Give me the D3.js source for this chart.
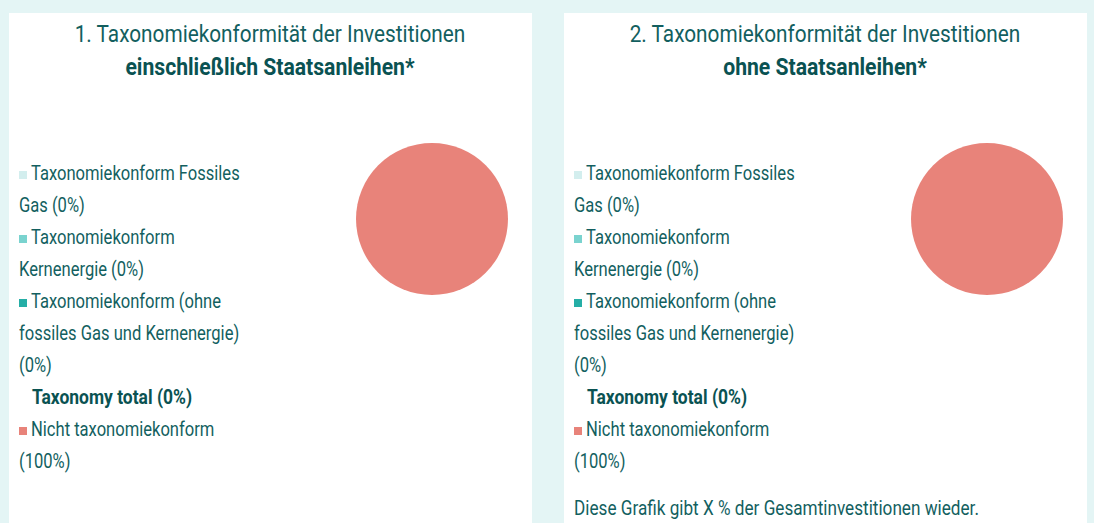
<!DOCTYPE html>
<html>
<head>
<meta charset="utf-8">
<script src="https://cdn.jsdelivr.net/npm/d3@7"></script>
<style>
  html, body { margin: 0; padding: 0; background: #e4f5f5; }
  svg { display: block; }
  text { font-family: Roboto, "Noto Sans", sans-serif; }
</style>
</head>
<body>
<svg id="chart" width="1094" height="523"></svg>
<script>
// Two taxonomy-alignment panels, each with a wrapped legend and a pie
const panelTitles = [
  "1. Taxonomiekonformität der Investitionen",
  "2. Taxonomiekonformität der Investitionen"
];
const panelSubtitles = [
  "einschließlich Staatsanleihen*",
  "ohne Staatsanleihen*"
];
const categories = [
  "Taxonomiekonform Fossiles Gas",
  "Taxonomiekonform Kernenergie",
  "Taxonomiekonform (ohne fossiles Gas und Kernenergie)",
  "Nicht taxonomiekonform"
];
const valuesInclSovereign = [0, 0, 0, 100];
const valuesExclSovereign = [0, 0, 0, 100];
const totalLabel = "Taxonomy total";
const footnote = "Diese Grafik gibt X % der Gesamtinvestitionen wieder.";
const colors = ["#d3eeee", "#7ad3cf", "#25aea6", "#e8837a"];

const panels = [
  { title: panelTitles[0], subtitle: panelSubtitles[0], values: valuesInclSovereign, note: null },
  { title: panelTitles[1], subtitle: panelSubtitles[1], values: valuesExclSovereign, note: footnote }
];

const svg = d3.select("#chart");
const panelW = 523, panelGap = 32, panelX0 = 9, panelY0 = 13;
const textColor = "#135f5f", boldColor = "#0a5252";
const condense = 0.85;      // horizontal squeeze for a narrow look
const condenseBold = 0.895;
const fontSize = 19.5;
const lineH = 32;
const wrapWidth = 238;

const color = d3.scaleOrdinal().domain(categories).range(colors);
const pie = d3.pie().sort(null).value(d => d.value);
const arc = d3.arc().innerRadius(0).outerRadius(76);

// measuring helper
const meas = svg.append("text").attr("font-size", fontSize).attr("visibility", "hidden");
function width(str) {
  meas.text(str);
  return meas.node().getComputedTextLength() * condense;
}
function wrap(str, firstIndent) {
  const words = str.split(" ");
  const lines = [];
  let cur = "", avail = wrapWidth - firstIndent;
  words.forEach(w => {
    const test = cur ? cur + " " + w : w;
    if (cur && width(test) > avail) {
      lines.push(cur);
      cur = w;
      avail = wrapWidth;
    } else cur = test;
  });
  lines.push(cur);
  return lines;
}

panels.forEach((p, i) => {
  const g = svg.append("g")
    .attr("transform", `translate(${panelX0 + i * (panelW + panelGap)},${panelY0})`);
  g.append("rect").attr("width", panelW).attr("height", 523 - panelY0).attr("fill", "#ffffff");

  // headings
  const cx = 261;
  g.append("text").attr("x", 0).attr("y", 29)
    .attr("text-anchor", "middle").attr("font-size", 23.5)
    .attr("fill", textColor)
    .attr("transform", `translate(${cx},0) scale(0.885,1)`)
    .text(p.title);
  g.append("text").attr("x", 0).attr("y", 62)
    .attr("text-anchor", "middle").attr("font-size", 23.5).attr("font-weight", 700)
    .attr("fill", boldColor)
    .attr("transform", `translate(${cx},0) scale(0.9,1)`)
    .text(p.subtitle);

  // legend rows
  const data = categories.map((c, k) => ({ name: c, value: p.values[k] }));
  const total = d3.sum(data.slice(0, 3), d => d.value);
  const rows = [];
  data.forEach((d, k) => {
    const lines = wrap(`${d.name} (${d3.format("d")(d.value)}%)`, 12);
    lines.forEach((ln, j) => rows.push({ text: ln, swatch: j === 0 ? d.name : null, indent: j === 0 ? 22 : 10, bold: false }));
    if (k === 2) rows.push({ text: `${totalLabel} (${total}%)`, swatch: null, indent: 23, bold: true });
  });

  const leg = g.append("g").attr("transform", "translate(0,154)");
  rows.forEach((r, j) => {
    const y = j * lineH;
    if (r.swatch) {
      leg.append("rect").attr("x", 10).attr("y", y + 4).attr("width", 8).attr("height", 8)
        .attr("fill", color(r.swatch));
    }
    leg.append("text")
      .attr("x", 0).attr("y", y + 13)
      .attr("font-size", fontSize)
      .attr("font-weight", r.bold ? 700 : 400)
      .attr("fill", r.bold ? boldColor : textColor)
      .attr("transform", `translate(${r.indent},0) scale(${r.bold ? condenseBold : condense},1)`)
      .text(r.text);
  });

  // pie
  g.append("g").attr("transform", "translate(423,206)")
    .selectAll("path")
    .data(pie(data))
    .join("path")
    .attr("d", arc)
    .attr("fill", d => color(d.data.name));

  if (p.note) {
    g.append("text").attr("x", 0).attr("y", 502)
      .attr("font-size", fontSize).attr("fill", textColor)
      .attr("transform", `translate(10,0) scale(0.88,1)`)
      .text(p.note);
  }
});
meas.remove();
</script>
</body>
</html>
